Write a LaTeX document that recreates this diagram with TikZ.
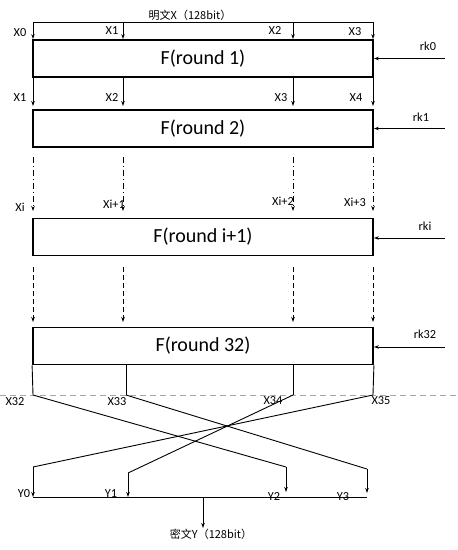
\documentclass[tikz,border=0pt]{standalone}
\usepackage{fontspec}
\setmainfont{Carlito}
\newfontfamily\cjk{Noto Sans CJK SC}
\usetikzlibrary{arrows.meta}
\begin{document}
\begin{tikzpicture}[x=1pt,y=-1pt, line width=0.9pt,
  >={Stealth[length=5pt,width=3.5pt]},
  fbox/.style={draw, line width=1.8pt, minimum width=340pt, minimum height=37pt, inner sep=0pt, font=\fontsize{20}{24}\selectfont},
  lbl/.style={font=\fontsize{12.3}{14}\selectfont, inner sep=0pt},
  cjklbl/.style={font=\cjk\fontsize{11}{13}\selectfont, inner sep=0pt},
  dashdotline/.style={dash pattern=on 6pt off 3pt on 1pt off 3pt},
  dashline/.style={dash pattern=on 5pt off 3pt},
  sepline/.style={draw=black!35, dash pattern=on 6pt off 4pt, line width=0.8pt}]
\useasboundingbox (0,0) rectangle (458,550);

% boxes
\node[fbox] (b1) at (203,58.5) {F(round 1)};
\node[fbox] (b2) at (203,128.5) {F(round 2)};
\node[fbox] (b3) at (203,237) {F(round i+1)};
\node[fbox] (b4) at (203,346) {F(round 32)};

% input
\node[cjklbl] (pt) at (190,15) {明文X（128bit）};
\coordinate (t0) at (33,22);
\coordinate (t1) at (123,22);
\coordinate (t2) at (293,22);
\coordinate (t3) at (373,22);
\draw (t0) -- (t3);
\foreach \c in {t0,t1,t2,t3} \draw[->] (\c) -- (\c |- b1.north);
\node[lbl] (x0a) at (20,33) {X0};
\node[lbl] (x1a) at (112,31) {X1};
\node[lbl] (x2a) at (275,31) {X2};
\node[lbl] (x3a) at (355,32) {X3};

% between round 1 and 2
\coordinate (u0) at (33,77);
\coordinate (u1) at (123,77);
\coordinate (u2) at (293,77);
\coordinate (u3) at (373,77);
\foreach \c in {u0,u1,u2,u3} \draw[->] (\c) -- ++(0,29);
\node[lbl] (x1b) at (20,98) {X1};
\node[lbl] (x2b) at (112,98) {X2};
\node[lbl] (x3b) at (281,98) {X3};
\node[lbl] (x4b) at (356,98) {X4};

% dash-dot between round 2 and i+1
\coordinate (v0) at (33,157);
\coordinate (v1) at (123,157);
\coordinate (v2) at (293,157);
\coordinate (v3) at (373,157);
\foreach \c in {v0,v1,v2,v3} \draw[->, dashdotline] (\c) -- ++(0,54);
\node[lbl] (xia) at (20,207) {Xi};
\node[lbl] (xib) at (114,204) {Xi+1};
\node[lbl] (xic) at (283,201) {Xi+2};
\node[lbl] (xid) at (355,202) {Xi+3};

% dashed between round i+1 and 32
\coordinate (w0) at (33,267);
\coordinate (w1) at (123,267);
\coordinate (w2) at (293,267);
\coordinate (w3) at (373,267);
\foreach \c in {w0,w1,w2,w3} \draw[->, dashline] (\c) -- ++(0,55);

% round keys
\coordinate (r0) at (445,58.5);
\coordinate (r1) at (445,128.5);
\coordinate (r2) at (445,238);
\coordinate (r3) at (445,347);
\draw[->] (r0) -- (r0 -| b1.east);
\draw[->] (r1) -- (r1 -| b2.east);
\draw[->] (r2) -- (r2 -| b3.east);
\draw[->] (r3) -- (r3 -| b4.east);
\node[lbl] (k0) at (428,46) {rk0};
\node[lbl] (k1) at (421,117) {rk1};
\node[lbl] (k2) at (425,226) {rki};
\node[lbl] (k3) at (425,334) {rk32};

% output of round 32
\coordinate (p0) at (33,395);
\coordinate (p1) at (126,395);
\coordinate (p2) at (293,395);
\coordinate (p3) at (373,395);
\draw (b4.south west) -- (p0);
\draw (p1 |- b4.south) -- (p1);
\draw (p2 |- b4.south) -- (p2);
\draw (b4.south east) -- (p3);
\draw[sepline] (0,395) -- (458,395);
\node[lbl] (x32) at (15,402) {X32};
\node[lbl] (x33) at (117,402) {X33};
\node[lbl] (x34) at (273,401) {X34};
\node[lbl] (x35) at (381,401) {X35};

% reverse permutation
\coordinate (q0) at (33,467);
\coordinate (q1) at (128,473);
\coordinate (q2) at (286,467);
\coordinate (q3) at (367,469);
\draw (p0) -- (q2);
\draw (p1) -- (q3);
\draw (p2) -- (q1);
\draw (p3) -- (q0);
\coordinate (y0) at (33,497);
\coordinate (y3) at (367,497);
\draw[->] (q0) -- (y0);
\draw[->] (q1) -- (q1 |- y0);
\draw[->] (q2) -- ++(0,25);
\draw[->] (q3) -- ++(0,24);
\draw (y0) -- (y3);
\coordinate (ym) at (203,497);
\node[cjklbl] (ct) at (211,534) {密文Y（128bit）};
\draw[->] (ym) -- (203,528);
\node[lbl] (ly0) at (24,494) {Y0};
\node[lbl] (ly1) at (111,494) {Y1};
\node[lbl] (ly2) at (274,497) {Y2};
\node[lbl] (ly3) at (343,497) {Y3};
\end{tikzpicture}
\end{document}
